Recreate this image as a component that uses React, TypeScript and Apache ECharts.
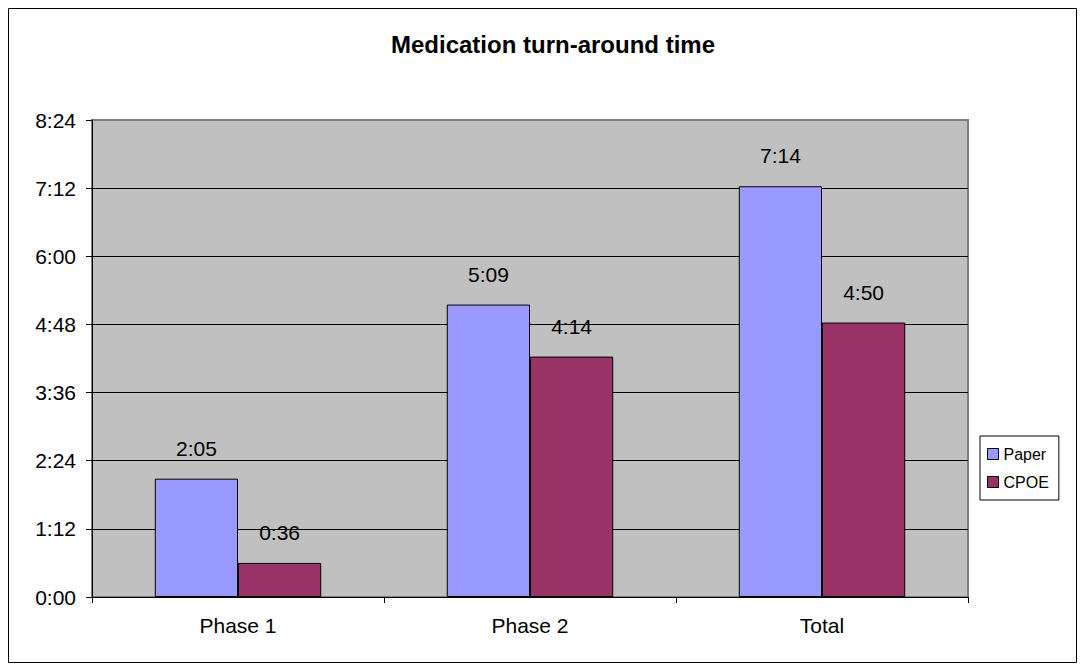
import React, { useEffect, useRef } from "react";
import * as echarts from "echarts";

const categories = ["Phase 1", "Phase 2", "Total"];
// values in minutes (h:mm)
const paperMinutes = [125, 309, 434];
const cpoeMinutes = [36, 254, 290];
const yMin = 0;
const yMax = 504;
const yInterval = 72;

const fmt = (v: number) => {
  const h = Math.floor(v / 60);
  const m = Math.round(v % 60);
  return `${h}:${String(m).padStart(2, "0")}`;
};

const FONT = "'Liberation Sans', Arial, sans-serif";

export default function App() {
  const ref = useRef<HTMLDivElement>(null);
  useEffect(() => {
    if (!ref.current) return;
    const chart = echarts.init(ref.current, null, { renderer: "svg" });
    chart.setOption({
      animation: false,
      backgroundColor: "#ffffff",
      textStyle: { fontFamily: FONT },
      title: {
        text: "Medication turn-around time",
        left: 548,
        textAlign: "center",
        top: 27,
        textStyle: { fontFamily: FONT, fontSize: 24, fontWeight: "bold", color: "#000" },
      },
      graphic: [
        {
          type: "rect",
          shape: { x: 8.5, y: 8.5, width: 1068, height: 654 },
          style: { fill: "none", stroke: "#000", lineWidth: 1 },
          silent: true,
          z: 100,
        },
      ],
      legend: {
        orient: "vertical",
        left: 980,
        top: 436,
        backgroundColor: "#fff",
        borderColor: "#000",
        borderWidth: 1,
        padding: [10, 10, 10, 7],
        itemGap: 12,
        itemWidth: 11,
        itemHeight: 11,
        icon: "rect",
        itemStyle: { borderColor: "#000", borderWidth: 1 },
        textStyle: { fontFamily: FONT, fontSize: 16, color: "#000" },
        data: ["Paper", "CPOE"],
      },
      grid: {
        left: 92,
        right: 115,
        top: 120,
        bottom: 71,
        show: true,
        backgroundColor: "#C0C0C0",
        borderColor: "#808080",
        borderWidth: 2,
      },
      xAxis: {
        type: "category",
        data: categories,
        axisLine: { lineStyle: { color: "#000", width: 1 } },
        axisTick: { show: true, length: 6, lineStyle: { color: "#000" } },
        axisLabel: { fontFamily: FONT, fontSize: 21, color: "#000", margin: 18 },
      },
      yAxis: {
        type: "value",
        min: yMin,
        max: yMax,
        interval: yInterval,
        axisLine: { show: true, lineStyle: { color: "#000", width: 1 } },
        axisTick: { show: true, length: 6, lineStyle: { color: "#000" } },
        axisLabel: { fontFamily: FONT, fontSize: 21, color: "#000", margin: 16, formatter: (v: number) => fmt(v) },
        splitLine: {
          show: true,
          lineStyle: { color: ["#000", "#000", "#000", "#000", "#000", "#000", "#000", "#808080"], width: 1 },
        },
      },
      series: [
        {
          name: "Paper",
          type: "bar",
          data: paperMinutes,
          barGap: "0%",
          barCategoryGap: "43%",
          itemStyle: { color: "#9999FF", borderColor: "#000", borderWidth: 1 },
          label: {
            show: true,
            position: "top",
            distance: 20,
            fontFamily: FONT,
            fontSize: 21,
            color: "#000",
            formatter: (p: any) => fmt(p.value),
          },
        },
        {
          name: "CPOE",
          type: "bar",
          data: cpoeMinutes,
          itemStyle: { color: "#993366", borderColor: "#000", borderWidth: 1 },
          label: {
            show: true,
            position: "top",
            distance: 20,
            fontFamily: FONT,
            fontSize: 21,
            color: "#000",
            formatter: (p: any) => fmt(p.value),
          },
        },
      ],
    });
    return () => chart.dispose();
  }, []);
  return (
    <div
      ref={ref}
      style={{ position: "fixed", left: 0, top: 0, width: 1083, height: 668 }}
    />
  );
}
